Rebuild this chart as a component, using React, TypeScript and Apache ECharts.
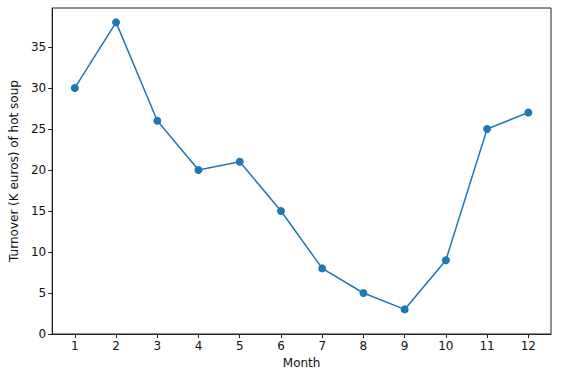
import React, { useEffect, useRef } from "react";
import * as echarts from "echarts";

const months = [1, 2, 3, 4, 5, 6, 7, 8, 9, 10, 11, 12];
const turnover = [30, 38, 26, 20, 21, 15, 8, 5, 3, 9, 25, 27];
const yTicks = [0, 5, 10, 15, 20, 25, 30, 35];

export default function App() {
  const ref = useRef<HTMLDivElement>(null);
  useEffect(() => {
    const chart = echarts.init(ref.current!, null, { renderer: "svg" });
    const font = "DejaVu Sans";
    chart.setOption({
      animation: false,
      backgroundColor: "#ffffff",
      grid: {
        left: 48,
        top: 8,
        right: 13,
        bottom: 44,
        show: true,
        borderColor: "#222",
        borderWidth: 1,
        backgroundColor: "transparent",
      },
      xAxis: {
        type: "value",
        min: 0.45,
        max: 12.55,
        name: "Month",
        nameLocation: "middle",
        nameGap: 23,
        nameTextStyle: { fontFamily: font, fontSize: 12, color: "#111" },
        axisLine: { show: true, lineStyle: { color: "#222", width: 1 } },
        axisTick: { show: true, length: 4, inside: false, customValues: months, lineStyle: { color: "#222" } },
        axisLabel: { customValues: months, fontFamily: font, fontSize: 12, color: "#111", margin: 6 },
        splitLine: { show: false },
      },
      yAxis: {
        type: "value",
        min: 0,
        max: 39.75,
        name: "Turnover (K euros) of hot soup",
        nameLocation: "middle",
        nameGap: 30,
        nameTextStyle: { fontFamily: font, fontSize: 12, color: "#111" },
        axisLine: { show: true, lineStyle: { color: "#222", width: 1 } },
        axisTick: { show: true, length: 4, customValues: yTicks, lineStyle: { color: "#222" } },
        axisLabel: { customValues: yTicks, fontFamily: font, fontSize: 12, color: "#111", margin: 6 },
        splitLine: { show: false },
      },
      series: [
        {
          type: "line",
          data: months.map((m, i) => [m, turnover[i]]),
          symbol: "circle",
          symbolSize: 8,
          showSymbol: true,
          lineStyle: { color: "#1f77b4", width: 1.5 },
          itemStyle: { color: "#1f77b4" },
        },
      ],
    });
    return () => chart.dispose();
  }, []);
  return <div ref={ref} style={{ width: 564, height: 378, position: "absolute", left: 0, top: 0 }} />;
}
